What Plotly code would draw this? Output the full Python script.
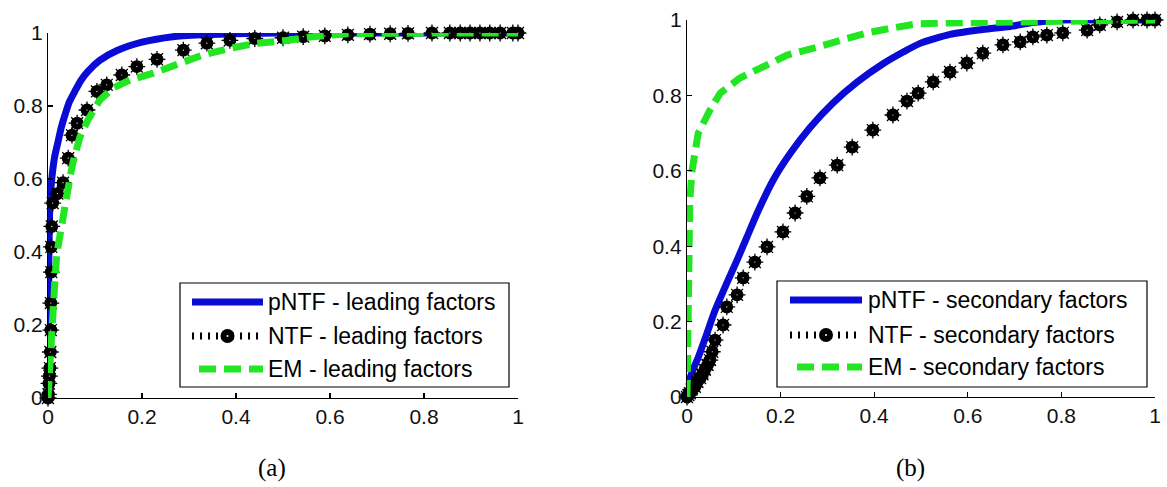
import plotly.graph_objects as go

W, H = 1167, 487

# ---------------- data ----------------
tick_vals = [0, 0.2, 0.4, 0.6, 0.8, 1.0]
tick_text = ["0", "0.2", "0.4", "0.6", "0.8", "1"]
captions = ["(a)", "(b)"]
legend_a = ["pNTF - leading factors", "NTF - leading factors", "EM - leading factors"]
legend_b = ["pNTF - secondary factors", "NTF - secondary factors", "EM - secondary factors"]

# panel (a): leading factors
a_pntf_x = [0, 0.001, 0.002, 0.004, 0.008, 0.014, 0.021, 0.028, 0.036, 0.045, 0.057, 0.07,
            0.085, 0.11, 0.147, 0.2, 0.266, 0.33, 0.4, 0.5, 0.6, 0.8, 1.0]
a_pntf_y = [0, 0.2, 0.4, 0.53, 0.6, 0.66, 0.7, 0.74, 0.775, 0.81, 0.84, 0.87,
            0.895, 0.925, 0.952, 0.975, 0.99, 0.995, 0.998, 1, 1, 1, 1]

a_ntf_x = [0, 0.001, 0.002, 0.003, 0.004, 0.005, 0.006, 0.006, 0.007, 0.007,
           0.008, 0.01, 0.02, 0.032, 0.043, 0.051, 0.062, 0.083, 0.104, 0.125,
           0.157, 0.189, 0.232, 0.288, 0.338, 0.387, 0.44, 0.5, 0.543, 0.589,
           0.638, 0.685, 0.728, 0.766, 0.817, 0.855, 0.877, 0.898, 0.919, 0.94,
           0.962, 0.989, 1.0]
a_ntf_y = [0, 0.01, 0.04, 0.06, 0.082, 0.126, 0.186, 0.26, 0.345, 0.414,
           0.47, 0.534, 0.56, 0.59, 0.657, 0.72, 0.753, 0.789, 0.84, 0.858,
           0.885, 0.908, 0.928, 0.953, 0.972, 0.98, 0.985, 0.987, 0.99, 0.992,
           0.995, 0.997, 0.998, 0.999, 1, 1, 1, 1, 1, 1,
           1, 1, 1]

a_em_x = [0, 0.002, 0.004, 0.008, 0.011, 0.015, 0.019, 0.026, 0.032, 0.04, 0.047, 0.053,
          0.068, 0.085, 0.11, 0.138, 0.174, 0.224, 0.274, 0.33, 0.387, 0.444, 0.5,
          0.564, 0.636, 0.7, 0.8, 0.9, 1.0]
a_em_y = [0, 0.05, 0.123, 0.195, 0.268, 0.33, 0.397, 0.452, 0.515, 0.56, 0.605, 0.645,
          0.715, 0.762, 0.816, 0.849, 0.871, 0.89, 0.912, 0.94, 0.958, 0.972, 0.978,
          0.99, 0.998, 1, 1, 1, 1]

# panel (b): secondary factors
b_pntf_x = [0, 0.002, 0.012, 0.024, 0.043, 0.06, 0.085, 0.107, 0.128, 0.15, 0.184, 0.22,
            0.263, 0.312, 0.363, 0.419, 0.462, 0.498, 0.562, 0.632, 0.69, 0.739, 0.8, 0.9, 1.0]
b_pntf_y = [0, 0.03, 0.07, 0.105, 0.17, 0.23, 0.302, 0.363, 0.424, 0.488, 0.575, 0.645,
            0.715, 0.78, 0.835, 0.884, 0.915, 0.938, 0.962, 0.975, 0.983, 0.993, 1, 1, 1]

b_ntf_x = [0, 0.003, 0.006, 0.01, 0.017, 0.022, 0.028, 0.033, 0.038, 0.044, 0.049, 0.054,
           0.06, 0.077, 0.085, 0.107,
           0.12, 0.145, 0.171, 0.205, 0.231, 0.256, 0.284, 0.321, 0.353, 0.397,
           0.44, 0.47, 0.494, 0.526, 0.562, 0.598, 0.632, 0.675, 0.712, 0.739,
           0.769, 0.803, 0.855, 0.882, 0.919, 0.953, 0.983, 1.0]
b_ntf_y = [0, 0.005, 0.01, 0.02, 0.027, 0.04, 0.05, 0.06, 0.072, 0.085, 0.098, 0.12,
           0.151, 0.191, 0.239, 0.271,
           0.316, 0.358, 0.398, 0.438, 0.488, 0.532, 0.581, 0.615, 0.663, 0.708,
           0.748, 0.785, 0.806, 0.836, 0.862, 0.886, 0.912, 0.934, 0.942, 0.955,
           0.96, 0.966, 0.973, 0.987, 0.995, 1.0, 1.0, 1.0]

b_em_x = [0, 0.001, 0.002, 0.003, 0.004, 0.006, 0.011, 0.024, 0.049, 0.071, 0.113, 0.162,
          0.214, 0.278, 0.327, 0.385, 0.44, 0.491, 0.562, 0.669, 0.81, 0.953, 1.0]
b_em_y = [0, 0.1, 0.25, 0.4, 0.48, 0.523, 0.602, 0.70, 0.761, 0.806, 0.846, 0.875,
          0.907, 0.928, 0.947, 0.966, 0.979, 0.99, 0.992, 0.994, 0.996, 1.0, 1.0]

# ---------------- style ----------------
BLUE = "#0b0bd6"
GREEN = "#22e622"
BLACK = "#000000"
EM_DASH = "17px,8px"
SANS = "Liberation Sans, Arial, sans-serif"
SERIF = "Liberation Serif, Times New Roman, serif"


def fx(px):
    return px / W


def fy(py):
    return 1 - py / H


panels = [
    dict(xa="x", ya="y",
         pntf=(a_pntf_x, a_pntf_y), ntf=(a_ntf_x, a_ntf_y), em=(a_em_x, a_em_y),
         box=(180, 283, 509, 387), sx=(192, 263), tx=266, rows=(302, 336, 369),
         labels=legend_a, cap=captions[0], cap_pos=(272, 468)),
    dict(xa="x2", ya="y2",
         pntf=(b_pntf_x, b_pntf_y), ntf=(b_ntf_x, b_ntf_y), em=(b_em_x, b_em_y),
         box=(777, 281, 1147, 387), sx=(790, 862), tx=866, rows=(300, 335, 367),
         labels=legend_b, cap=captions[1], cap_pos=(910, 468)),
]

fig = go.Figure()
shapes = []
annotations = []

for p in panels:
    xa, ya = p["xa"], p["ya"]
    fig.add_trace(go.Scatter(x=p["pntf"][0], y=p["pntf"][1], mode="lines",
                             line=dict(color=BLUE, width=7, shape="spline", smoothing=0.6),
                             xaxis=xa, yaxis=ya, cliponaxis=False, showlegend=False,
                             hoverinfo="skip"))
    fig.add_trace(go.Scatter(x=p["ntf"][0], y=p["ntf"][1], mode="markers",
                             marker=dict(symbol="asterisk-open", size=14, color=BLACK,
                                         line=dict(color=BLACK, width=1.3)),
                             xaxis=xa, yaxis=ya, cliponaxis=False, showlegend=False,
                             hoverinfo="skip"))
    fig.add_trace(go.Scatter(x=p["ntf"][0], y=p["ntf"][1], mode="markers",
                             marker=dict(symbol="circle", size=7, color="white",
                                         line=dict(color=BLACK, width=5.8)),
                             xaxis=xa, yaxis=ya, cliponaxis=False, showlegend=False,
                             hoverinfo="skip"))
    fig.add_trace(go.Scatter(x=p["em"][0], y=p["em"][1], mode="lines",
                             line=dict(color=GREEN, width=7, dash=EM_DASH),
                             xaxis=xa, yaxis=ya, cliponaxis=False, showlegend=False,
                             hoverinfo="skip"))

    # legend box
    bx0, by0, bx1, by1 = p["box"]
    shapes.append(dict(type="rect", xref="paper", yref="paper",
                       x0=fx(bx0), x1=fx(bx1), y0=fy(by1), y1=fy(by0),
                       line=dict(color=BLACK, width=1.2), fillcolor="white", layer="above"))
    sx0, sx1 = p["sx"]
    r0, r1, r2 = p["rows"]
    # pNTF sample
    shapes.append(dict(type="line", xref="paper", yref="paper",
                       x0=fx(sx0), x1=fx(sx1), y0=fy(r0), y1=fy(r0),
                       line=dict(color=BLUE, width=7), layer="above"))
    # NTF sample: dotted thick line + marker
    shapes.append(dict(type="line", xref="paper", yref="paper",
                       x0=fx(sx0), x1=fx(sx1), y0=fy(r1), y1=fy(r1),
                       line=dict(color=BLACK, width=7, dash="2px,6px"), layer="above"))
    cx = (sx0 + sx1) / 2
    shapes.append(dict(type="circle", xref="paper", yref="paper",
                       x0=fx(cx - 7), x1=fx(cx + 7), y0=fy(r1 + 7), y1=fy(r1 - 7),
                       fillcolor=BLACK, line=dict(color=BLACK, width=0), layer="above"))
    shapes.append(dict(type="circle", xref="paper", yref="paper",
                       x0=fx(cx - 1), x1=fx(cx + 1), y0=fy(r1 + 1), y1=fy(r1 - 1),
                       fillcolor="white", line=dict(color="white", width=0), layer="above"))
    # EM sample
    shapes.append(dict(type="line", xref="paper", yref="paper",
                       x0=fx(sx0 + 7), x1=fx(sx1), y0=fy(r2), y1=fy(r2),
                       line=dict(color=GREEN, width=7, dash=EM_DASH), layer="above"))
    for lab, r in zip(p["labels"], p["rows"]):
        annotations.append(dict(text=lab, xref="paper", yref="paper", x=fx(p["tx"]), y=fy(r),
                                xanchor="left", yanchor="middle", showarrow=False,
                                font=dict(family=SANS, size=23, color=BLACK)))
    cxp, cyp = p["cap_pos"]
    annotations.append(dict(text=p["cap"], xref="paper", yref="paper", x=fx(cxp), y=fy(cyp),
                            xanchor="center", yanchor="middle", showarrow=False,
                            font=dict(family=SERIF, size=25, color=BLACK)))

axis_common = dict(range=[0, 1], showgrid=False, zeroline=False, showline=True,
                   linecolor=BLACK, linewidth=1.2, ticks="inside", ticklen=5,
                   tickcolor=BLACK, tickwidth=1.2, tickvals=tick_vals, ticktext=tick_text,
                   tickfont=dict(family=SANS, size=21, color="#111111"),
                   automargin=False, fixedrange=True)

fig.update_layout(
    width=W, height=H, margin=dict(l=0, r=0, t=0, b=0, autoexpand=False),
    paper_bgcolor="white", plot_bgcolor="white", showlegend=False,
    xaxis=dict(domain=[fx(48), fx(518)], anchor="y", **axis_common),
    yaxis=dict(domain=[fy(398), fy(33)], anchor="x", **axis_common),
    xaxis2=dict(domain=[fx(687), fx(1155)], anchor="y2", **axis_common),
    yaxis2=dict(domain=[fy(397), fy(20)], anchor="x2", **axis_common),
    shapes=shapes, annotations=annotations,
)

fig.write_html("out.html",
               config={"displayModeBar": False, "staticPlot": True},
               post_script="document.body.style.margin='0px';"
                           "document.body.style.overflow='hidden';")
